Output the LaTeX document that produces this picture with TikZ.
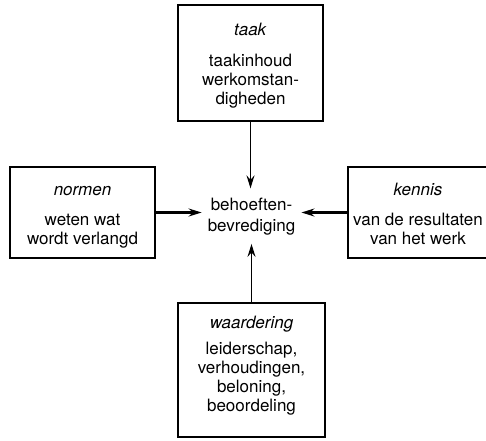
\documentclass[tikz,border=0pt]{standalone}
\usepackage{fontspec}
\setmainfont{TeX Gyre Heros}
\usetikzlibrary{arrows.meta}
\begin{document}
\begin{tikzpicture}[x=1pt,y=-1pt,
  boxst/.style={draw,line width=2.1pt,inner sep=0pt},
  txt/.style={align=center,font=\fontsize{17}{19}\selectfont,inner sep=0pt,anchor=base},
  arr/.style={-{Stealth[length=13pt,width=8pt,inset=4.5pt]}}]
\fill[white] (0,0) rectangle (486,440);
\useasboundingbox (0,0) rectangle (486,440);
% boxes
\node[boxst,minimum width=145pt,minimum height=116pt] (t) at (250.5,63) {};
\node[boxst,minimum width=145pt,minimum height=91pt] (l) at (82.5,212.5) {};
\node[boxst,minimum width=142pt,minimum height=91pt] (r) at (419,212.5) {};
\node[boxst,minimum width=147pt,minimum height=134pt] (b) at (251.5,370) {};
% texts
\node[txt] (tt) at (250.5,104) {\textit{taak}\\[12pt]taakinhoud\\werkomstan-\\digheden};
\node[txt] (lt) at (82.5,244) {\textit{normen}\\[11pt]weten wat\\wordt verlangd};
\node[txt] (rt) at (418,244) {\textit{kennis}\\[11pt]van de resultaten\\van het werk};
\node[txt] (bt) at (251.5,411) {\textit{waardering}\\[7pt]leiderschap,\\verhoudingen,\\beloning,\\beoordeling};
\node[txt,inner xsep=6pt,inner ysep=9pt] (c) at (251.5,231) {behoeften-\\[2pt]bevrediging};
% connectors
\draw[arr,line width=1.5pt] (t.south) -- (t.south |- c.north);
\draw[arr,line width=2.2pt] (l.east) -- (l.east -| c.west);
\draw[arr,line width=2.2pt] (r.west) -- (r.west -| c.east);
\draw[arr,line width=1.8pt] (b.north) -- (b.north |- c.south);
\end{tikzpicture}
\end{document}
